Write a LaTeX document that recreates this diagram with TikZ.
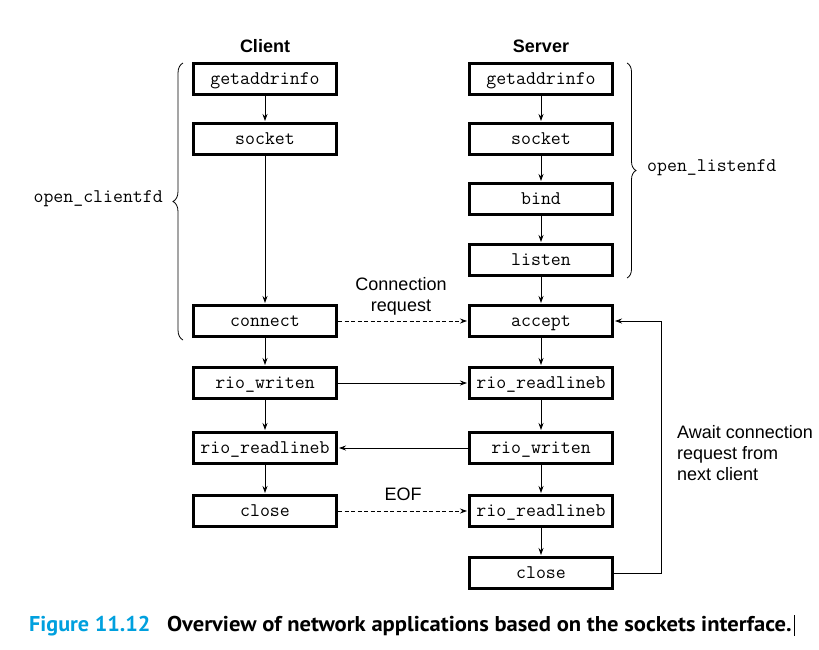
\documentclass[tikz,border=0pt]{standalone}
\usepackage{fontspec}
\setsansfont{Liberation Sans}
\newfontfamily\capfont{PT Sans}
\usetikzlibrary{arrows.meta,decorations.pathreplacing}
\definecolor{figblue}{RGB}{0,160,222}
\begin{document}
\begin{tikzpicture}[x=1pt,y=-1pt,
  fn/.style={draw, line width=3pt, minimum width=143pt, minimum height=31pt,
    inner sep=0pt, text height=12pt, text depth=2pt,
    font=\fontsize{19.3}{22}\selectfont\ttfamily},
  flow/.style={line width=0.8pt, -{Stealth[length=7pt,width=5pt]}, shorten >=1pt},
  msg/.style={flow, dashed, dash pattern=on 4pt off 2.5pt},
  lbl/.style={font=\fontsize{18}{21}\selectfont\sffamily, inner sep=0pt},
  ttl/.style={font=\fontsize{18}{21}\selectfont\sffamily\bfseries, inner sep=0pt},
  code/.style={font=\fontsize{19.3}{22}\selectfont\ttfamily, inner sep=0pt},
  capt/.style={font=\capfont\bfseries\fontsize{21.4}{24}\selectfont, inner sep=0pt, anchor=base west},
  grp/.style={decorate, line width=0.8pt}]
\useasboundingbox (0,0) rectangle (819,649);

% column headings
\node[ttl] (client) at (265,46) {Client};
\node[ttl] (server) at (541,46) {Server};

% client side
\node[fn] (cgai)   at (265,79)  {getaddrinfo};
\node[fn] (csock)  at (265,139) {socket};
\node[fn] (conn)   at (265,321) {connect};
\node[fn] (cwrite) at (265,383) {rio\_writen};
\node[fn] (cread)  at (265,448) {rio\_readlineb};
\node[fn] (cclose) at (265,511) {close};

% server side
\node[fn] (sgai)   at (541,79)  {getaddrinfo};
\node[fn] (ssock)  at (541,139) {socket};
\node[fn] (bind)   at (541,199) {bind};
\node[fn] (listen) at (541,260) {listen};
\node[fn] (accept) at (541,321) {accept};
\node[fn] (sread)  at (541,383) {rio\_readlineb};
\node[fn] (swrite) at (541,448) {rio\_writen};
\node[fn] (sread2) at (541,511) {rio\_readlineb};
\node[fn] (sclose) at (541,573) {close};

% call order within each process
\foreach \a/\b in {cgai/csock, csock/conn, conn/cwrite, cwrite/cread, cread/cclose,
                   sgai/ssock, ssock/bind, bind/listen, listen/accept, accept/sread,
                   sread/swrite, swrite/sread2, sread2/sclose}
  \draw[flow] (\a.south) -- (\b.north);

% traffic between client and server
\draw[msg]  (conn.east)   -- (accept.west);
\draw[flow] (cwrite.east) -- (sread.west);
\draw[flow] (swrite.west) -- (cread.east);
\draw[msg]  (cclose.east) -- (sread2.west);
\node[lbl, align=center] (connreq) at (401,296) {Connection\\request};
\node[lbl] (eof) at (403,494) {EOF};

% server loop back to accept
\coordinate (loop) at (661,573);
\draw[flow] (sclose.east) -- (loop) |- (accept.east);
\node[lbl, align=left, anchor=west] (await) at (677,453)
  {Await connection\\request from\\next client};

% helper function groupings
\coordinate (lb1) at (183,340);
\coordinate (lb2) at (183,63);
\draw[grp, decoration={brace, amplitude=10pt}] (lb1) -- (lb2);
\node[code, anchor=east] (ocfd) at (163,199) {open\_clientfd};
\coordinate (rb1) at (627,63);
\coordinate (rb2) at (627,278);
\draw[grp, decoration={brace, amplitude=9pt}] (rb1) -- (rb2);
\node[code, anchor=west] (olfd) at (647,168) {open\_listenfd};

% caption
\node[capt, text=figblue] (capnum) at (29,631) {\scalebox{1.035}[1]{Figure 11.12}};
\node[capt] (captext) at (167,631)
  {\scalebox{1.056}[1]{Overview of network applications based on the sockets interface.}};
\coordinate (cur1) at (794,615);
\coordinate (cur2) at (794,636);
\draw[line width=1pt] (cur1) -- (cur2);
\end{tikzpicture}
\end{document}
